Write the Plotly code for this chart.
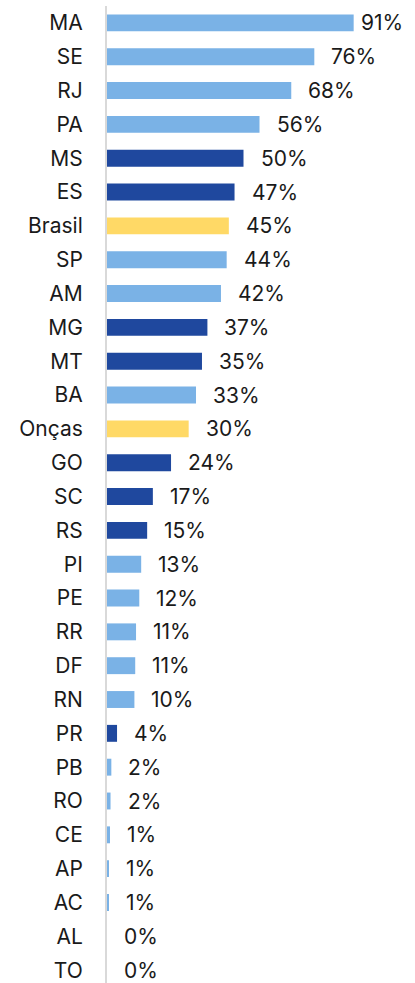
import plotly.graph_objects as go

categories = ["MA", "SE", "RJ", "PA", "MS", "ES", "Brasil", "SP", "AM", "MG", "MT", "BA",
              "Onças", "GO", "SC", "RS", "PI", "PE", "RR", "DF", "RN", "PR", "PB", "RO",
              "CE", "AP", "AC", "AL", "TO"]
values = [90.9, 76.4, 67.9, 56.2, 50.3, 47.0, 44.9, 44.1, 42.0, 37.0, 35.0, 32.8, 30.1, 23.6,
          16.9, 14.8, 12.6, 11.9, 10.7, 10.4, 10.1, 3.7, 1.6, 1.3, 1.1, 0.6, 0.6, 0.0, 0.0]
labels = ["91%", "76%", "68%", "56%", "50%", "47%", "45%", "44%", "42%", "37%", "35%", "33%",
          "30%", "24%", "17%", "15%", "13%", "12%", "11%", "11%", "10%", "4%", "2%", "2%",
          "1%", "1%", "1%", "0%", "0%"]
groups = ["light", "light", "light", "light", "dark", "dark", "ref", "light", "light", "dark",
          "dark", "light", "ref", "dark", "dark", "dark", "light", "light", "light", "light",
          "light", "dark", "light", "light", "light", "light", "light", "light", "light"]

palette = {"light": "#7AB2E6", "dark": "#1F489E", "ref": "#FFD966"}
colors = [palette[g] for g in groups]

W, H = 415, 983
ML, MR, MT, MB = 107, 0, 6, 0
XMAX = 113.5
px_per_unit = (W - ML - MR) / XMAX
ROW_PX = 33.83
y_span = (H - MT - MB) / ROW_PX

FONT = dict(family="Inter", size=21, color="#1a1a1a")

fig = go.Figure(go.Bar(
    y=categories, x=values, orientation="h",
    marker=dict(color=colors, line=dict(width=0)),
    hoverinfo="skip",
))

annotations = []
for c, v, t in zip(categories, values, labels):
    end_px = ML + v * px_per_unit
    shift = min(15, 400 - 41 - end_px)
    annotations.append(dict(
        x=v, y=c, xref="x", yref="y", text=t, showarrow=False,
        xanchor="left", yanchor="middle", xshift=shift,
        font=FONT,
    ))

fig.update_layout(
    width=W, height=H,
    margin=dict(l=ML, r=MR, t=MT, b=MB, pad=0, autoexpand=False),
    paper_bgcolor="white", plot_bgcolor="white",
    bargap=0.5, showlegend=False,
    annotations=annotations,
    font=FONT,
)
fig.update_xaxes(range=[0, XMAX], visible=False, fixedrange=True, automargin=False)
fig.update_yaxes(
    categoryorder="array", categoryarray=categories,
    range=[-0.5 + y_span, -0.5],
    showline=True, linecolor="#D9D9D9", linewidth=2,
    showgrid=False, zeroline=False,
    ticks="outside", ticklen=18, tickcolor="rgba(0,0,0,0)",
    tickfont=FONT, automargin=False,
    fixedrange=True,
)

fig.write_html(
    "out.html",
    config={"displayModeBar": False},
    post_script="document.body.style.margin='0';document.body.style.overflow='hidden';",
)
